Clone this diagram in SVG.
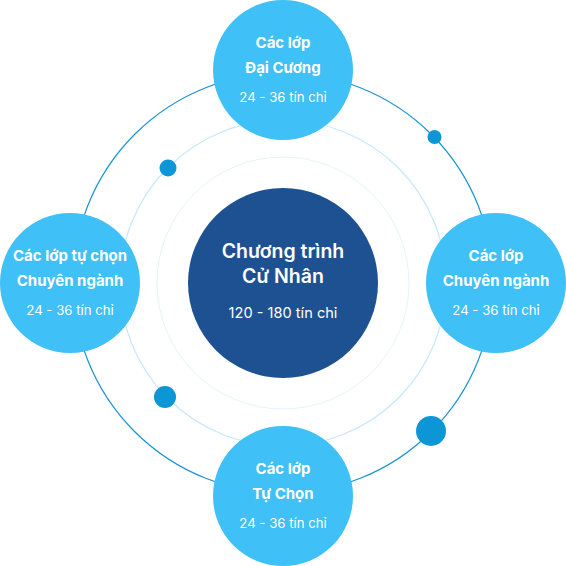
<svg xmlns="http://www.w3.org/2000/svg" width="566" height="566" viewBox="0 0 566 566">
<style>
.ring{fill:none}
.sat{fill:#3fc0f6}
.dot{fill:#0d96d5}
text{font-family:Inter,"Noto Sans","DejaVu Sans",sans-serif;fill:#fff;text-anchor:middle}
.t{font-size:15px;font-weight:700}
.s{font-size:13.2px;font-weight:400}
.ct{font-size:19.5px;font-weight:600}
.cs{font-size:14.6px;font-weight:400}
</style>
<g id="connectors">
<circle class="ring" cx="283" cy="283" r="126" stroke="#e3f5fc" stroke-width="1"/>
<circle class="ring" cx="283" cy="283" r="163" stroke="#c5e8f8" stroke-width="1.2"/>
<circle class="ring" cx="283" cy="283" r="210" stroke="#1a94d2" stroke-width="1.2"/>
<circle class="dot" cx="434.5" cy="137" r="7"/>
<circle class="dot" cx="168" cy="168" r="8.5"/>
<circle class="dot" cx="165" cy="397" r="11"/>
<circle class="dot" cx="431" cy="431" r="15"/>
</g>
<g id="center">
<circle cx="283" cy="283" r="95" fill="#1e5191"/>
<text class="ct" x="283" y="258">Chương trình</text>
<text class="ct" x="283" y="283">Cử Nhân</text>
<text class="cs" x="283" y="318">120 - 180 tín chỉ</text>
</g>
<g id="top">
<circle class="sat" cx="283" cy="70" r="70"/>
<text class="t" x="283" y="48">Các lớp</text>
<text class="t" x="283" y="73">Đại Cương</text>
<text class="s" x="283" y="102">24 - 36 tín chỉ</text>
</g>
<g id="left">
<circle class="sat" cx="70" cy="283" r="70"/>
<text class="t" x="70" y="261">Các lớp tự chọn</text>
<text class="t" x="70" y="286">Chuyên ngành</text>
<text class="s" x="70" y="315">24 - 36 tín chỉ</text>
</g>
<g id="right">
<circle class="sat" cx="496" cy="283" r="70"/>
<text class="t" x="496" y="261">Các lớp</text>
<text class="t" x="496" y="286">Chuyên ngành</text>
<text class="s" x="496" y="315">24 - 36 tín chỉ</text>
</g>
<g id="bottom">
<circle class="sat" cx="283" cy="496" r="70"/>
<text class="t" x="283" y="474">Các lớp</text>
<text class="t" x="283" y="499">Tự Chọn</text>
<text class="s" x="283" y="528">24 - 36 tín chỉ</text>
</g>
</svg>
